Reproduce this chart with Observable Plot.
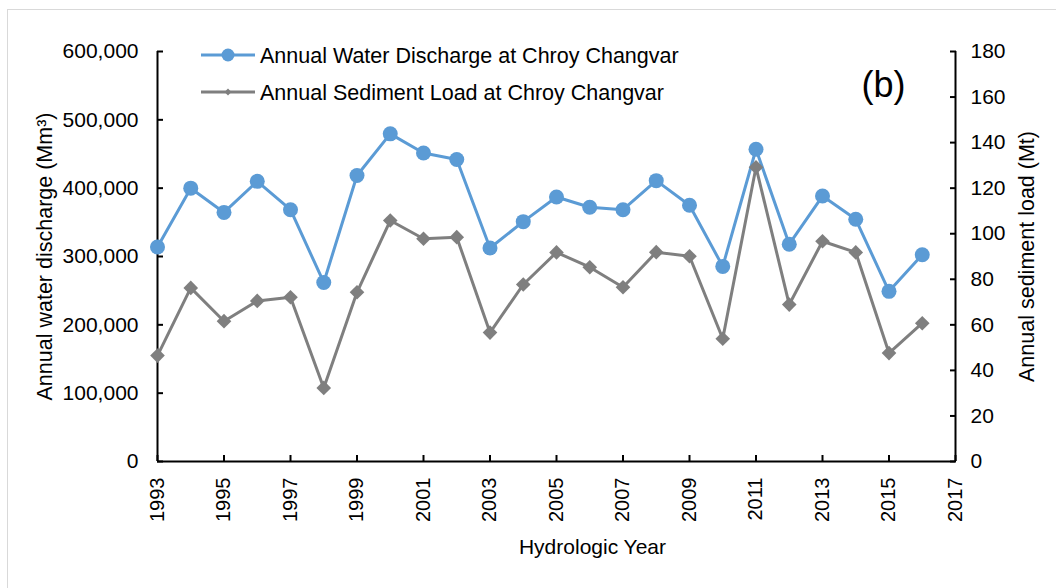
<!DOCTYPE html>
<html>
<head>
<meta charset="utf-8">
<script src="https://cdn.jsdelivr.net/npm/d3@7"></script>
<script src="https://cdn.jsdelivr.net/npm/@observablehq/plot@0.6"></script>
<style>
  html, body { margin: 0; padding: 0; background: #fff; }
  #wrap { position: relative; width: 1056px; height: 588px; overflow: hidden; }
  #border { position: absolute; left: 7px; top: 9px; width: 1100px; height: 700px;
            border-top: 1px solid #d9d9d9; border-left: 1px solid #d9d9d9; }
  #chart { position: absolute; left: 0; top: 0; }
</style>
</head>
<body>
<div id="wrap"><div id="border"></div><div id="chart"></div></div>
<script>
const years = [1993,1994,1995,1996,1997,1998,1999,2000,2001,2002,2003,2004,2005,2006,2007,2008,2009,2010,2011,2012,2013,2014,2015,2016];
const waterDischarge = [314000,400000,364500,410000,368500,262000,418500,479500,451500,442000,312500,351000,387000,372000,368500,411000,375000,285500,457000,318000,388500,354500,249000,302500];
const sedimentLoad = [46.5,76.2,61.6,70.5,72.1,32.3,74.3,105.8,97.8,98.5,56.6,77.7,91.8,85.3,76.5,91.9,90.1,53.9,129.2,68.9,96.7,91.8,47.6,60.7];
const xTicks = [1993,1995,1997,1999,2001,2003,2005,2007,2009,2011,2013,2015,2017];
const leftTicks = [0,100000,200000,300000,400000,500000,600000];
const rightTicks = [0,20,40,60,80,100,120,140,160,180];
const xDomain = [1993, 2017];
const leftDomain = [0, 600000];
const rightDomain = [0, 180];
const seriesNames = ["Annual Water Discharge at Chroy Changvar", "Annual Sediment Load at Chroy Changvar"];
const labels = {x: "Hydrologic Year", left: "Annual water discharge (Mm\u00B3)", right: "Annual sediment load (Mt)", panel: "(b)"};

const blue = "#5B9BD5", gray = "#7F7F7F";
const font = "'Liberation Sans', Arial, sans-serif";
const toLeft = d3.scaleLinear(rightDomain, leftDomain);
const data = years.map((y, i) => ({year: y, water: waterDischarge[i], sed: sedimentLoad[i]}));

const svg = Plot.plot({
  width: 1056, height: 588,
  marginTop: 51, marginBottom: 127, marginLeft: 157, marginRight: 101,
  style: {fontFamily: font, fontSize: "21px", color: "#000", background: "transparent"},
  x: {domain: xDomain},
  y: {domain: leftDomain},
  marks: [
    Plot.axisY(leftTicks, {anchor: "left", tickFormat: d3.format(","), tickSize: -6, tickPadding: 25, strokeWidth: 2, fontSize: 21, label: null}),
    Plot.axisY(rightTicks, {anchor: "right", y: d => toLeft(d), tickFormat: d => String(d), tickSize: -6, tickPadding: 21, strokeWidth: 2, fontSize: 21, label: null}),
    Plot.axisX(xTicks, {anchor: "bottom", tickFormat: d => String(d), tickSize: -6, tickPadding: 22, tickRotate: -90, strokeWidth: 2, fontSize: 20, label: null}),
    Plot.ruleX(xDomain, {stroke: "#000", strokeWidth: 2}),
    Plot.ruleY([leftDomain[0]], {stroke: "#000", strokeWidth: 2}),
    Plot.line(data, {x: "year", y: "water", stroke: blue, strokeWidth: 3}),
    Plot.dot(data, {x: "year", y: "water", r: 7.5, fill: blue, stroke: "none"}),
    Plot.line(data, {x: "year", y: d => toLeft(d.sed), stroke: gray, strokeWidth: 3}),
    Plot.dot(data, {x: "year", y: d => toLeft(d.sed), r: 6.6, symbol: "diamond2", fill: gray, stroke: "none"}),
    Plot.text([labels.left], {frameAnchor: "left", dx: -112, rotate: -90, textAnchor: "middle", fontSize: 21.5}),
    Plot.text([labels.right], {frameAnchor: "right", dx: 72, rotate: -90, textAnchor: "middle", fontSize: 21.5}),
    Plot.text([labels.x], {frameAnchor: "bottom", dx: 36, dy: 92, textAnchor: "middle", fontSize: 21}),
    Plot.text([labels.panel], {frameAnchor: "top-right", dx: -50, dy: 20, fontSize: 36, textAnchor: "end"})
  ]
});

// Legend
const g = d3.select(svg).append("g").attr("font-family", font).attr("font-size", 21.5).attr("text-anchor", "start");
const legendRows = [
  {name: seriesNames[0], color: blue, y: 55, sym: "circle"},
  {name: seriesNames[1], color: gray, y: 92, sym: "diamond"}
];
legendRows.forEach(r => {
  g.append("line").attr("x1", 201).attr("x2", 255).attr("y1", r.y).attr("y2", r.y)
    .attr("stroke", r.color).attr("stroke-width", 3);
  if (r.sym === "circle") {
    g.append("circle").attr("cx", 228).attr("cy", r.y).attr("r", 6.5).attr("fill", r.color);
  } else {
    g.append("path").attr("d", d3.symbol(d3.symbolDiamond2, 30)()).attr("transform", `translate(228,${r.y})`).attr("fill", r.color);
  }
  g.append("text").attr("x", 260).attr("y", r.y).attr("dy", "0.35em").attr("fill", "#000").attr("text-anchor", "start").text(r.name);
});

document.getElementById("chart").appendChild(svg);
</script>
</body>
</html>
